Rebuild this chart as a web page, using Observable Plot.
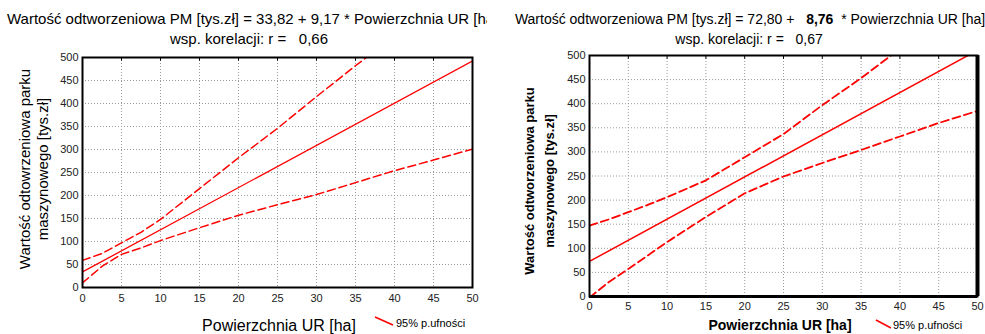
<!DOCTYPE html>
<html><head><meta charset="utf-8">
<script src="https://cdn.jsdelivr.net/npm/d3@7"></script>
<script src="https://cdn.jsdelivr.net/npm/@observablehq/plot@0.6"></script>
<style>
body{margin:0;background:#fff;font-family:"Liberation Sans",Arial,sans-serif;}
#wrap{position:relative;width:985px;height:334px;overflow:hidden;background:#fff;}
.abs{position:absolute;white-space:pre;color:#000;}
.c{transform:translateX(-50%);}
.rot{transform:translate(-50%,-50%) rotate(-90deg);text-align:center;}
</style></head><body><div id="wrap"></div>
<script>
// ---- data ----
const xTicks = [0,5,10,15,20,25,30,35,40,45,50];
const yTicks = [0,50,100,150,200,250,300,350,400,450,500];

// left chart
const leftRegX = [0, 50];
const leftRegY = [33.82, 492.32];
const leftBandX = [0, 2.5, 5, 7.5, 10, 15, 20, 25, 30, 35, 40, 45, 50];
const leftUpper = [59, 74, 97, 120, 148, 215, 282, 346, 415, 482, 547, 612, 684];
const leftLower = [10, 46, 72, 86, 102, 130, 157, 180, 202, 228, 254, 277, 301];

// right chart
const rightRegX = [0, 50];
const rightRegY = [72.80, 510.80];
const rightBandX = [0, 2.5, 5, 7.5, 10, 15, 20, 25, 30, 35, 40, 45, 50];
const rightUpper = [147, 160, 175, 190, 206, 241, 289, 337, 397, 453, 514, 577, 638];
const rightLower = [-2, 30, 57, 85, 113, 165, 214, 249, 277, 304, 332, 360, 385];

const RED = "#ff0000";
const font = '"Liberation Sans", Arial, sans-serif';

function pts(xs, ys){ return xs.map((x,i)=>({x, y: ys[i]})); }

function makeChart(o){
  const marks = [
    Plot.gridX(xTicks, {stroke:"#9a9a9a", strokeOpacity:1, strokeDasharray:"1,2", strokeWidth:1}),
    Plot.gridY(yTicks, {stroke:"#9a9a9a", strokeOpacity:1, strokeDasharray:"1,2", strokeWidth:1}),
    Plot.axisX(xTicks, {tickSize:0, tickPadding:o.xPad, label:null, fontSize:11, fill:"#222"}),
    Plot.axisY(yTicks, {tickSize:0, tickPadding:o.yPad, label:null, fontSize:11, fill:"#222"}),
    Plot.ruleX(xTicks, {x: d=>d, y1: 500, y2: 492, stroke:"#000", strokeWidth:1}),
    Plot.line(pts(o.bx, o.up), {x:"x", y:"y", stroke:RED, strokeWidth:o.dw, strokeDasharray:"8,4", clip:true}),
    Plot.line(pts(o.bx, o.lo), {x:"x", y:"y", stroke:RED, strokeWidth:o.dw, strokeDasharray:"8,4", clip:true}),
    Plot.line(pts(o.rx, o.ry), {x:"x", y:"y", stroke:RED, strokeWidth:o.lw, clip:true}),
    Plot.frame({stroke:"#000", strokeWidth:2})
  ];
  if (o.thick) {
    marks.push(Plot.ruleX([50], {stroke:"#000", strokeWidth:4}));
    marks.push(Plot.ruleY([0], {stroke:"#000", strokeWidth:3}));
  }
  const svg = Plot.plot({
    width: o.width, height: 334,
    marginLeft: o.ml, marginRight: o.mr, marginTop: o.mt, marginBottom: o.mb,
    x: {domain:[0,50], label:null},
    y: {domain:[0,500], label:null},
    style: {fontFamily: font, fontSize:"11px", background:"transparent", color:"#222", overflow:"visible"},
    marks
  });
  svg.style.position = "absolute";
  svg.style.top = "0px";
  svg.style.left = o.left + "px";
  return svg;
}

const wrap = document.getElementById("wrap");
wrap.appendChild(makeChart({left:0, width:490, ml:82, mr:18, mt:57, mb:47, xPad:7, yPad:4,
  bx:leftBandX, up:leftUpper, lo:leftLower, rx:leftRegX, ry:leftRegY, dw:1.5, lw:1.3, thick:false}));
wrap.appendChild(makeChart({left:490, width:495, ml:99, mr:8, mt:55, mb:38, xPad:6, yPad:4,
  bx:rightBandX, up:rightUpper, lo:rightLower, rx:rightRegX, ry:rightRegY, dw:1.8, lw:1.5, thick:true}));

function add(html, css, cls){
  const d = document.createElement("div");
  d.className = "abs " + (cls||"");
  d.innerHTML = html;
  Object.assign(d.style, css);
  wrap.appendChild(d);
  return d;
}
// left texts
const clipBox = add("", {left:"0px", top:"0px", width:"487px", height:"50px", overflow:"hidden"});
const t1 = document.createElement("div");
t1.className = "abs";
t1.textContent = "Wartość odtworzeniowa PM [tys.zł] = 33,82 + 9,17 * Powierzchnia UR [ha]";
Object.assign(t1.style, {left:"7px", top:"11px", fontSize:"15px", lineHeight:"16px"});
clipBox.appendChild(t1);
add("wsp. korelacji: r =   0,66", {left:"249px", top:"31px", fontSize:"15px", lineHeight:"16px"}, "c");
add("Wartość odtowrzeniowa parku<br>maszynowego [tys.zł]", {left:"34px", top:"169px", fontSize:"15px", lineHeight:"18px"}, "rot");
add("Powierzchnia UR [ha]", {left:"279px", top:"317px", fontSize:"16px", lineHeight:"17px"}, "c");
add('<svg width="20" height="10" style="position:absolute;left:-22px;top:-1px"><line x1="1" y1="1" x2="19" y2="9" stroke="#ff0000" stroke-width="1.5"/></svg>95% p.ufności',
  {left:"396px", top:"317px", fontSize:"11px", lineHeight:"12px"});

// right texts
add('Wartość odtworzeniowa PM [tys.zł] = 72,80 +   <b>8,76</b>  * Powierzchnia UR [ha]', {left:"750px", top:"12px", fontSize:"14px", lineHeight:"15px"}, "c");
add("wsp. korelacji: r =   0,67", {left:"749px", top:"32px", fontSize:"14px", lineHeight:"15px"}, "c");
add("<b>Wartość odtworzeniowa parku<br>maszynowego [tys.zł]</b>", {left:"540px", top:"181px", fontSize:"13px", lineHeight:"20px"}, "rot");
add("<b>Powierzchnia UR [ha]</b>", {left:"780px", top:"318px", fontSize:"14px", lineHeight:"15px"}, "c");
add('<svg width="18" height="10" style="position:absolute;left:-18px;top:0px"><line x1="1" y1="1" x2="16" y2="9" stroke="#ff0000" stroke-width="1.5"/></svg>95% p.ufności',
  {left:"893px", top:"319px", fontSize:"11px", lineHeight:"12px"});
</script></body></html>
